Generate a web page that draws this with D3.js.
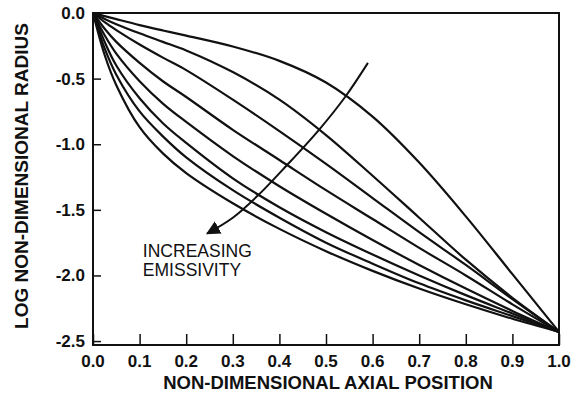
<!DOCTYPE html>
<html>
<head>
<meta charset="utf-8">
<script src="https://cdn.jsdelivr.net/npm/d3@7"></script>
<style>
  body { margin: 0; background: #fff; }
  text { font-family: "Liberation Sans", Arial, sans-serif; fill: #111; }
</style>
</head>
<body>
<svg width="571" height="399"></svg>
<script>
// axial positions (shared by all curves)
const axialPos = [0, 0.025, 0.05, 0.1, 0.15, 0.2, 0.3, 0.4, 0.5, 0.6, 0.7, 0.8, 0.9, 1.0];

// log radius, lowest emissivity first
const curve1 = [0, -0.024, -0.047, -0.092, -0.133, -0.172, -0.255, -0.365, -0.53, -0.79, -1.14, -1.55, -1.99, -2.43];
const curve2 = [0, -0.045, -0.085, -0.155, -0.22, -0.285, -0.45, -0.66, -0.93, -1.24, -1.56, -1.88, -2.17, -2.43];
const curve3 = [0, -0.07, -0.13, -0.24, -0.34, -0.435, -0.66, -0.90, -1.15, -1.41, -1.67, -1.92, -2.18, -2.43];
const curve4 = [0, -0.12, -0.22, -0.38, -0.52, -0.64, -0.89, -1.12, -1.35, -1.57, -1.79, -2.00, -2.22, -2.43];
const curve5 = [0, -0.17, -0.31, -0.52, -0.69, -0.83, -1.09, -1.32, -1.53, -1.73, -1.92, -2.10, -2.27, -2.43];
const curve6 = [0, -0.22, -0.40, -0.65, -0.84, -0.99, -1.26, -1.48, -1.67, -1.84, -2.00, -2.15, -2.29, -2.43];
const curve7 = [0, -0.27, -0.47, -0.75, -0.94, -1.10, -1.35, -1.56, -1.75, -1.91, -2.06, -2.19, -2.31, -2.43];
const curve8 = [0, -0.32, -0.55, -0.87, -1.07, -1.22, -1.45, -1.645, -1.815, -1.965, -2.10, -2.22, -2.33, -2.43];
const allCurves = [curve1, curve2, curve3, curve4, curve5, curve6, curve7, curve8];

const xTicks = [0, 0.1, 0.2, 0.3, 0.4, 0.5, 0.6, 0.7, 0.8, 0.9, 1.0];
const yTicks = [0, -0.5, -1.0, -1.5, -2.0, -2.5];

// arrow "increasing emissivity" in data units, tail to tip
const arrowX = [0.590, 0.541, 0.485, 0.416, 0.354, 0.300, 0.245];
const arrowY = [-0.38, -0.64, -0.89, -1.16, -1.39, -1.56, -1.68];
const noteLines = ["INCREASING", "EMISSIVITY"];
const noteAt = [0.107, -1.86];

const svg = d3.select("svg");
const plotLeft = 93, plotRight = 559, plotTop = 13, plotBottom = 345;

const x = d3.scaleLinear().domain([0, 1]).range([plotLeft, plotRight]);
const y = d3.scaleLinear().domain([-2.53, 0]).range([plotBottom, plotTop]);

svg.append("rect").attr("width", 571).attr("height", 399).attr("fill", "#fff");

// curves
const line = d3.line()
  .x((d) => x(d[0]))
  .y((d) => y(d[1]))
  .curve(d3.curveCatmullRom.alpha(0.5));

allCurves.forEach((vals) =>
{
  const pts = axialPos.map((p, i) => [p, vals[i]]);
  svg.append("path")
    .attr("d", line(pts))
    .attr("fill", "none")
    .attr("stroke", "#111")
    .attr("stroke-width", 2.2);
});

// frame
svg.append("rect")
  .attr("x", plotLeft).attr("y", plotTop)
  .attr("width", plotRight - plotLeft).attr("height", plotBottom - plotTop)
  .attr("fill", "none")
  .attr("stroke", "#111")
  .attr("stroke-width", 2);

// axes with inward ticks
const xAxis = d3.axisTop(x).tickValues(xTicks).tickSize(11).tickFormat("");
svg.append("g").attr("transform", `translate(0,${ plotBottom })`).call(xAxis)
  .call((g) => g.select(".domain").remove())
  .call((g) => g.selectAll("line").attr("stroke", "#111").attr("stroke-width", 1.5));

const yAxis = d3.axisRight(y).tickValues(yTicks).tickSize(8).tickFormat("");
svg.append("g").attr("transform", `translate(${ plotLeft },0)`).call(yAxis)
  .call((g) => g.select(".domain").remove())
  .call((g) => g.selectAll("line").attr("stroke", "#111").attr("stroke-width", 1.5));

// tick labels
svg.selectAll(".xlab").data(xTicks).enter().append("text")
  .attr("x", (d) => x(d))
  .attr("y", 367)
  .attr("text-anchor", "middle")
  .attr("font-size", 17)
  .attr("font-weight", "bold")
  .text((d) => d.toFixed(1));

svg.selectAll(".ylab").data(yTicks).enter().append("text")
  .attr("x", 85)
  .attr("y", (d) => y(d) + 6)
  .attr("text-anchor", "end")
  .attr("font-size", 17)
  .attr("font-weight", "bold")
  .text((d) => d.toFixed(1));

// axis titles
svg.append("text")
  .attr("x", 328).attr("y", 389)
  .attr("text-anchor", "middle")
  .attr("font-size", 18.5)
  .attr("font-weight", "bold")
  .text("NON-DIMENSIONAL AXIAL POSITION");

svg.append("text")
  .attr("transform", "translate(28,176) rotate(-90)")
  .attr("text-anchor", "middle")
  .attr("font-size", 19)
  .attr("font-weight", "bold")
  .text("LOG NON-DIMENSIONAL RADIUS");

// arrow
svg.append("defs").append("marker")
  .attr("id", "head")
  .attr("viewBox", "0 0 10 10")
  .attr("refX", 9).attr("refY", 5)
  .attr("markerWidth", 7).attr("markerHeight", 7)
  .attr("orient", "auto")
  .append("path")
  .attr("d", "M0,0 L10,5 L0,10 Z")
  .attr("fill", "#111");

const arrowLine = d3.line()
  .x((d) => x(d[0]))
  .y((d) => y(d[1]))
  .curve(d3.curveCatmullRom);

svg.append("path")
  .attr("d", arrowLine(arrowX.map((v, i) => [v, arrowY[i]])))
  .attr("fill", "none")
  .attr("stroke", "#111")
  .attr("stroke-width", 2)
  .attr("marker-end", "url(#head)");

// annotation
noteLines.forEach((t, i) =>
{
  svg.append("text")
    .attr("x", x(noteAt[0]))
    .attr("y", y(noteAt[1]) + i * 19)
    .attr("font-size", 17.5)
    .text(t);
});
</script>
</body>
</html>
